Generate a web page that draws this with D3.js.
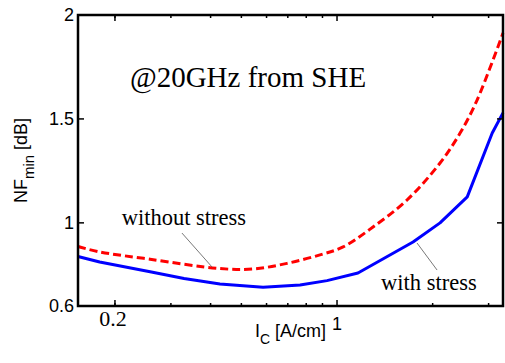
<!DOCTYPE html>
<html>
<head>
<meta charset="utf-8">
<script src="https://cdn.jsdelivr.net/npm/d3@7"></script>
<style>
  body { margin: 0; background: #fff; }
  svg { display: block; }
  .tick-label { font-family: "Liberation Sans", Arial, sans-serif; font-size: 18px; }
  .serif { font-family: "Liberation Serif", "Times New Roman", serif; }
</style>
</head>
<body>
<figure id="nf-plot" style="margin:0"></figure>
<script>
// collector current [A/cm] and NFmin [dB]
const currentNoStress = [0.153, 0.179, 0.258, 0.428, 0.544, 0.696, 0.884, 1.045, 1.298, 1.661, 2.11, 2.44, 2.76, 3.33];
const nfNoStress      = [0.886, 0.860, 0.825, 0.780, 0.778, 0.805, 0.846, 0.884, 0.980, 1.110, 1.288, 1.432, 1.591, 1.913];
const currentStress   = [0.153, 0.179, 0.258, 0.33, 0.428, 0.585, 0.765, 0.93, 1.164, 1.735, 2.11, 2.57, 3.08, 3.33];
const nfStress        = [0.838, 0.812, 0.765, 0.732, 0.706, 0.690, 0.701, 0.722, 0.759, 0.908, 1.0, 1.125, 1.432, 1.529];

const yTicks = [0.6, 1, 1.5, 2];
const xMajorTicks = [0.2, 1];
const xMinorTicks = [0.2, 0.3, 0.4, 0.5, 0.6, 0.7, 0.8, 0.9, 2, 3];

const width = 505, height = 363;
const margin = { top: 15, right: 2, bottom: 57, left: 78 };
const w = width - margin.left - margin.right;
const h = height - margin.top - margin.bottom;

const svg = d3.select('figure#nf-plot')
  .append('svg')
  .attr('width', width)
  .attr('height', height);

const g = svg.append('g')
  .attr('transform', 'translate(' + margin.left + ',' + margin.top + ')');

const x = d3.scaleLog().domain([0.153, 3.33]).range([0, w]);
const y = d3.scaleLinear().domain([0.6, 2]).range([h, 0]);

// curves
const lineSmooth = d3.line().x(d => x(d[0])).y(d => y(d[1])).curve(d3.curveCatmullRom.alpha(0.5));
const lineStraight = d3.line().x(d => x(d[0])).y(d => y(d[1]));

g.append('path')
  .datum(d3.zip(currentNoStress, nfNoStress))
  .attr('d', lineSmooth)
  .attr('fill', 'none')
  .attr('stroke', '#ff0000')
  .attr('stroke-width', 3)
  .attr('stroke-dasharray', '8,4');

g.append('path')
  .datum(d3.zip(currentStress, nfStress))
  .attr('d', lineStraight)
  .attr('fill', 'none')
  .attr('stroke', '#0000ff')
  .attr('stroke-width', 3)
  .attr('stroke-linejoin', 'round');

// ticks (inside, on all four sides, matlab style)
const ticks = g.append('g').attr('stroke', '#000').attr('stroke-width', 1.5);
xMinorTicks.forEach(v => {
  ticks.append('line').attr('x1', x(v)).attr('x2', x(v)).attr('y1', h).attr('y2', h - 3);
  ticks.append('line').attr('x1', x(v)).attr('x2', x(v)).attr('y1', 0).attr('y2', 3);
});
xMajorTicks.forEach(v => {
  ticks.append('line').attr('x1', x(v)).attr('x2', x(v)).attr('y1', h).attr('y2', h - 6);
  ticks.append('line').attr('x1', x(v)).attr('x2', x(v)).attr('y1', 0).attr('y2', 6);
});
yTicks.forEach(v => {
  ticks.append('line').attr('x1', 0).attr('x2', 6).attr('y1', y(v)).attr('y2', y(v));
  ticks.append('line').attr('x1', w).attr('x2', w - 6).attr('y1', y(v)).attr('y2', y(v));
});

// box
g.append('rect')
  .attr('width', w).attr('height', h)
  .attr('fill', 'none')
  .attr('stroke', '#000')
  .attr('stroke-width', 2.5);

// y tick labels
g.selectAll('.ylab')
  .data(yTicks)
  .join('text')
  .attr('class', 'tick-label')
  .attr('x', -4)
  .attr('y', d => y(d))
  .attr('dy', '0.36em')
  .attr('text-anchor', 'end')
  .text(d => d);

// x tick labels (0.2 rendered in serif like the original)
g.append('text')
  .attr('class', 'serif')
  .attr('font-size', 22)
  .attr('x', x(0.2) - 2)
  .attr('y', h + 20)
  .attr('text-anchor', 'middle')
  .text('0.2');

g.append('text')
  .attr('class', 'tick-label')
  .attr('x', x(1))
  .attr('y', h + 24)
  .attr('text-anchor', 'middle')
  .text('1');

// axis titles
const xt = g.append('text')
  .attr('class', 'tick-label')
  .attr('font-size', 19)
  .attr('x', w / 2)
  .attr('y', h + 31)
  .attr('text-anchor', 'middle');
xt.append('tspan').text('I');
xt.append('tspan').attr('font-size', 14).attr('dy', 7).text('C');
xt.append('tspan').attr('dy', -7).text(' [A/cm]');

const yt = g.append('text')
  .attr('class', 'tick-label')
  .attr('font-size', 20)
  .attr('transform', 'translate(' + (27 - margin.left) + ',' + (h / 2) + ') rotate(-90)')
  .attr('text-anchor', 'middle');
yt.append('tspan').text('NF');
yt.append('tspan').attr('font-size', 15).attr('dy', 7).text('min');
yt.append('tspan').attr('dy', -7).text(' [dB]');

// annotations
g.append('text')
  .attr('class', 'serif')
  .attr('font-size', 29)
  .attr('x', x(0.223))
  .attr('y', y(1.654))
  .text('@20GHz from SHE');

g.append('text')
  .attr('class', 'serif')
  .attr('font-size', 22.5)
  .attr('x', x(0.21))
  .attr('y', y(0.99))
  .text('without stress');

g.append('line')
  .attr('x1', x(0.325)).attr('y1', y(0.951))
  .attr('x2', x(0.404)).attr('y2', y(0.788))
  .attr('stroke', '#555').attr('stroke-width', 0.8);

g.append('text')
  .attr('class', 'serif')
  .attr('font-size', 22.5)
  .attr('x', x(1.376))
  .attr('y', y(0.677))
  .text('with stress');

g.append('line')
  .attr('x1', x(1.786)).attr('y1', y(0.903))
  .attr('x2', x(2.065)).attr('y2', y(0.773))
  .attr('stroke', '#555').attr('stroke-width', 0.8);
</script>
</body>
</html>
